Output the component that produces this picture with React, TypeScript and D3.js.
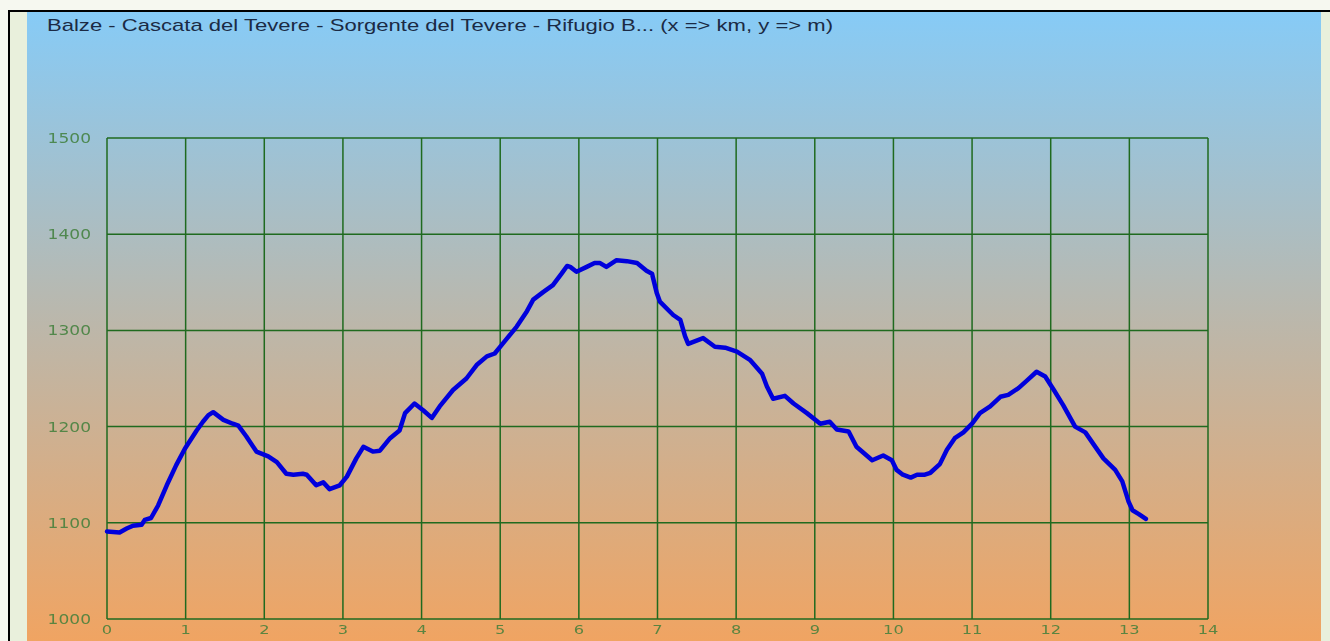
import React from 'react';
import * as d3 from 'd3';

// Profile of the walk: distance (km) and altitude (m)
const distKm = [
  0.0, 0.16, 0.25, 0.33, 0.44, 0.48, 0.56, 0.65, 0.76, 0.88, 0.99, 1.14, 1.22, 1.29, 1.35,
  1.48, 1.6, 1.67, 1.77, 1.9, 2.05, 2.16, 2.28, 2.37, 2.49, 2.54, 2.66, 2.75, 2.83, 2.96,
  3.05, 3.17, 3.26, 3.38, 3.47, 3.6, 3.72, 3.79, 3.91, 4.02, 4.13, 4.23, 4.4, 4.57, 4.7,
  4.83, 4.93, 5.04, 5.21, 5.34, 5.42, 5.55, 5.67, 5.78, 5.85, 5.89, 5.97, 6.1, 6.2, 6.27,
  6.35, 6.48, 6.61, 6.74, 6.86, 6.93, 6.99, 7.03, 7.2, 7.29, 7.35, 7.39, 7.58, 7.73, 7.86,
  8.01, 8.18, 8.33, 8.39, 8.47, 8.62, 8.73, 8.9, 9.07, 9.19, 9.28, 9.43, 9.53, 9.73, 9.87,
  9.98, 10.04, 10.12, 10.22, 10.3, 10.4, 10.47, 10.59, 10.68, 10.78, 10.89, 11.0, 11.1, 11.23,
  11.36, 11.46, 11.59, 11.7, 11.82, 11.93, 12.04, 12.16, 12.31, 12.44, 12.55, 12.67, 12.82,
  12.91, 12.99, 13.04, 13.12, 13.21,
];
const elevM = [
  1091, 1090, 1094, 1097, 1098, 1103, 1105, 1118, 1139, 1160, 1177, 1196, 1205, 1212, 1215,
  1207, 1203, 1201, 1190, 1174, 1169, 1163, 1151, 1150, 1151, 1150, 1139, 1142, 1135, 1139,
  1148, 1167, 1179, 1174, 1175, 1188, 1196, 1214, 1224, 1217, 1209, 1221, 1238, 1250, 1264,
  1273, 1276, 1287, 1304, 1320, 1332, 1340, 1347, 1359, 1367, 1366, 1361, 1366, 1370, 1370,
  1366, 1373, 1372, 1370, 1362, 1359, 1339, 1330, 1316, 1311, 1294, 1286, 1292, 1283, 1282,
  1278, 1269, 1255, 1242, 1229, 1232, 1224, 1214, 1203, 1205, 1197, 1195, 1179, 1165, 1170,
  1165, 1155, 1150, 1147, 1150, 1150, 1152, 1161, 1176, 1188, 1194, 1203, 1214, 1221,
  1231, 1233, 1240, 1248, 1257, 1252, 1238, 1222, 1200, 1194, 1181, 1167, 1155,
  1143, 1122, 1113, 1109, 1104,
];
const xTicks = d3.range(0, 15);
const yTicks = [1000, 1100, 1200, 1300, 1400, 1500];
const title = 'Balze - Cascata del Tevere - Sorgente del Tevere - Rifugio B... (x => km, y => m)';

const W = 1330;
const H = 641;
const plot = { left: 107, right: 1208, top: 138, bottom: 619 };

export default function App() {
  const x = d3.scaleLinear().domain([0, 14]).range([plot.left, plot.right]);
  const y = d3.scaleLinear().domain([1000, 1500]).range([plot.bottom, plot.top]);

  const line = d3
    .line<number>()
    .x((d) => x(d))
    .y((_, i) => y(elevM[i]));

  const gridColor = '#1f6a1f';
  const labelColor = '#3f7f3a';

  return (
    <svg
      width={W}
      height={H}
      style={{ position: 'absolute', left: 0, top: 0, display: 'block' }}
    >
      <defs>
        <linearGradient id="bg" x1="0" y1="10" x2="0" y2="641" gradientUnits="userSpaceOnUse">
          <stop offset="0" stopColor="#86cbf7" />
          <stop offset="0.5" stopColor="#bcb7aa" />
          <stop offset="1" stopColor="#f0a462" />
        </linearGradient>
      </defs>

      {/* page behind the panel */}
      <rect x={0} y={0} width={W} height={H} fill="#f6f8f0" />
      <rect x={9} y={11} width={W - 9} height={H - 11} fill="#e9f0dc" />
      <rect x={27} y={12} width={1294} height={H - 12} fill="url(#bg)" />
      <line x1={8} x2={W} y1={11} y2={11} stroke="#000" strokeWidth={2} />
      <line x1={9} x2={9} y1={10} y2={H} stroke="#000" strokeWidth={2} />

      <text
        x={47}
        y={31}
        fontFamily="Arial, 'Liberation Sans', sans-serif"
        fontSize={17}
        fill="#1b2a44"
        textLength={786}
        lengthAdjust="spacingAndGlyphs"
      >
        {title}
      </text>

      {/* grid */}
      <g stroke={gridColor} strokeWidth={1.5}>
        {xTicks.map((t) => (
          <line key={'vx' + t} x1={x(t)} x2={x(t)} y1={plot.top} y2={plot.bottom} />
        ))}
        {yTicks.map((t) => (
          <line key={'hy' + t} x1={plot.left} x2={plot.right} y1={y(t)} y2={y(t)} />
        ))}
      </g>

      {/* axis labels */}
      <g fontFamily="'DejaVu Sans', Verdana, sans-serif" fill={labelColor} opacity={0.85}>
        {yTicks.map((t) => (
          <text
            key={'yl' + t}
            fontSize={14}
            transform={`translate(91,${y(t) + 5}) scale(1.22,1)`}
            textAnchor="end"
          >
            {t}
          </text>
        ))}
        {xTicks.map((t) => (
          <text
            key={'xl' + t}
            fontSize={13}
            transform={`translate(${x(t)},${plot.bottom + 15}) scale(1.25,1)`}
            textAnchor="middle"
          >
            {t}
          </text>
        ))}
      </g>

      <path
        d={line(distKm) || ''}
        fill="none"
        stroke="#0000dc"
        strokeWidth={4.5}
        strokeLinejoin="round"
        strokeLinecap="round"
      />
    </svg>
  );
}
